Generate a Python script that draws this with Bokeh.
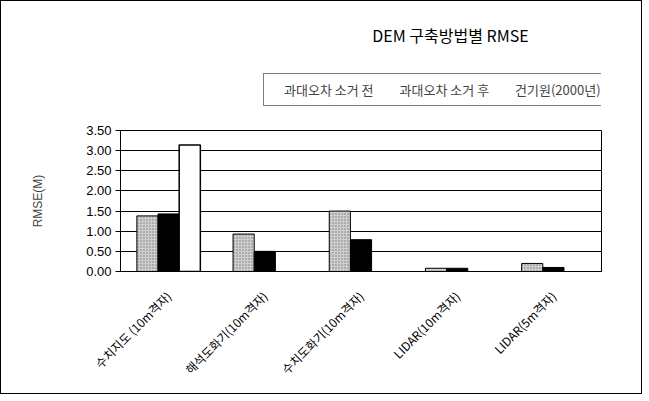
import math
from bokeh.plotting import figure
from bokeh.layouts import column
from bokeh.models import (ColumnDataSource, FactorRange, Legend, LegendItem, Label,
                          NumeralTickFormatter, FixedTicker, Range1d)
from bokeh.transform import dodge
from bokeh.embed import file_html
from bokeh.resources import INLINE

nan = float("nan")

title_text = "DEM 구축방법별 RMSE"
y_label = "RMSE(M)"
categories = ["수치지도 (10m격자)", "해석도화기(10m격자)", "수치도화기(10m격자)",
              "LIDAR(10m격자)", "LIDAR(5m격자)"]
series_names = ["과대오차 소거 전", "과대오차 소거 후", "건기원(2000년)"]
before = [1.38, 0.93, 1.50, 0.08, 0.20]
after = [1.43, 0.50, 0.79, 0.08, 0.10]
kigiwon = [3.14, nan, nan, nan, nan]
y_ticks = [0.0, 0.5, 1.0, 1.5, 2.0, 2.5, 3.0, 3.5]

KFONT = "Noto Sans CJK KR"
NFONT = "Liberation Sans"

STYLE_BEFORE = dict(fill_color="#cfcfcf", line_color="black", line_width=1,
                    hatch_pattern="dot", hatch_color="#777777", hatch_scale=3, hatch_weight=1)
STYLE_AFTER = dict(fill_color="black", line_color="black", line_width=1)
STYLE_KIGIWON = dict(fill_color="white", line_color="black", line_width=1.5)

# ---------------- header: title + legend ----------------
top = figure(width=640, height=124, x_range=Range1d(0, 1), y_range=Range1d(0, 1),
             x_axis_type=None, y_axis_type=None, toolbar_location=None,
             output_backend="svg", min_border=0)
top.outline_line_color = None
top.background_fill_color = "white"
top.border_fill_color = "white"

empty = ColumnDataSource(data=dict(x=[], top=[]))
k1 = top.vbar(x="x", top="top", width=0.1, source=empty, **STYLE_BEFORE)
k2 = top.vbar(x="x", top="top", width=0.1, source=empty, **STYLE_AFTER)
k3 = top.vbar(x="x", top="top", width=0.1, source=empty, **STYLE_KIGIWON)

legend = Legend(items=[LegendItem(label=series_names[0], renderers=[k1]),
                       LegendItem(label=series_names[1], renderers=[k2]),
                       LegendItem(label=series_names[2], renderers=[k3])],
                location=(143, 19), orientation="horizontal",
                border_line_color="black", border_line_width=1,
                background_fill_color="white", background_fill_alpha=1,
                label_text_font=KFONT, label_text_font_size="13px",
                glyph_width=10, glyph_height=10, label_standoff=4, spacing=12,
                padding=6, margin=0)
top.add_layout(legend)

title = Label(x=330, y=91, x_units="screen", y_units="screen", text=title_text,
              text_align="center", text_baseline="middle", text_font=KFONT,
              text_font_size="16px", text_color="black")
top.add_layout(title)

# ---------------- main chart ----------------
src = ColumnDataSource(data=dict(cat=categories, before=before, after=after, kigiwon=kigiwon))

p = figure(width=640, height=268, x_range=FactorRange(*categories, range_padding=0),
           y_range=Range1d(0, 3.5), output_backend="svg", toolbar_location=None,
           min_border_left=119, min_border_right=40, min_border_top=5, min_border_bottom=122)
p.outline_line_color = "black"
p.outline_line_width = 1
p.background_fill_color = "white"
p.border_fill_color = "white"

p.xgrid.visible = False
p.ygrid.grid_line_color = "black"
p.ygrid.grid_line_alpha = 1
p.ygrid.grid_line_width = 1

p.yaxis.ticker = FixedTicker(ticks=y_ticks)
p.yaxis.formatter = NumeralTickFormatter(format="0.00")
p.yaxis.major_tick_in = 0
p.yaxis.major_tick_out = 5
p.yaxis.minor_tick_line_color = None
p.yaxis.axis_line_color = "black"
p.yaxis.major_label_text_font = NFONT
p.yaxis.major_label_text_font_size = "13px"
p.yaxis.major_label_text_color = "black"
p.yaxis.major_label_standoff = 4
p.yaxis.axis_label = y_label
p.yaxis.axis_label_text_font = NFONT
p.yaxis.axis_label_text_font_style = "normal"
p.yaxis.axis_label_text_font_size = "12px"
p.yaxis.axis_label_standoff = 38

p.xaxis.major_tick_line_color = None
p.xaxis.minor_tick_line_color = None
p.xaxis.axis_line_color = "black"
p.xaxis.major_label_orientation = math.pi / 4
p.xaxis.major_label_text_font = KFONT
p.xaxis.major_label_text_font_size = "12px"
p.xaxis.major_label_text_color = "black"
p.xaxis.major_label_standoff = 16

w = 0.22
p.vbar(x=dodge("cat", -w, range=p.x_range), top="before", width=w, source=src, **STYLE_BEFORE)
p.vbar(x=dodge("cat", 0, range=p.x_range), top="after", width=w, source=src, **STYLE_AFTER)
p.vbar(x=dodge("cat", w, range=p.x_range), top="kigiwon", width=w, source=src, **STYLE_KIGIWON)

layout = column(top, p, spacing=0, styles={"border": "1px solid black"})

open("out.html", "w").write(file_html(layout, INLINE))
